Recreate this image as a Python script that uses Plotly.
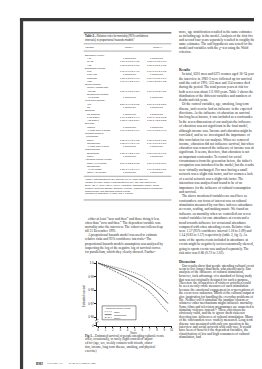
import textwrap
import plotly.graph_objects as go

# ---------------- chart data ----------------
years = [0, 1, 2, 3, 4, 5, 6, 7, 8, 9, 9.5]
surv_often = [1.0, 0.9988, 0.9975, 0.9960, 0.9945, 0.9928, 0.9905, 0.9868, 0.9830, 0.9790, 0.9772]
surv_occasionally = [1.0, 0.9983, 0.9963, 0.9942, 0.9920, 0.9895, 0.9868, 0.9836, 0.9790, 0.9725, 0.9700]
surv_rarely = [1.0, 0.9975, 0.9948, 0.9920, 0.9893, 0.9862, 0.9828, 0.9787, 0.9730, 0.9665, 0.9640]
series_names = ["Often", "Occasionally", "Rarely"]
legend_title = "Attending cultural events:"
x_ticks = [0, 1, 2, 3, 4, 5, 6, 7, 8, 9, 10]
y_floor = 0.9535            # broken axis origin, labelled "0"
y_ticks = [0.96, 0.97, 0.98, 0.99, 1.0]
y_tick_labels = ["0·96", "0·97", "0·98", "0·99", "1·0"]
x_title = "Years"
y_title = "Estimated survival"

# ---------------- page text ----------------
table_title = ["<b>Table 2</b>—Relative risks for mortality (95% confidence",
               "intervals) in proportional hazards models*"]
table_header = ["Variable", "Model I", "Model II"]
table_rows = [
    ("Education (years):", 0, "", ""),
    ("<10", 1, "1 Reference", "1 Reference"),
    ("10-12", 1, "0.80 (0.68 to 0.95)", "0.83 (0.70 to 1.00)"),
    (">12", 1, "0.63 (0.50 to 0.80)", "0.83 (0.65 to 1.05)"),
    ("Disposable income:", 0, "", ""),
    ("Low", 1, "1.16 (0.96 to 1.40)", "0.96 (0.79 to 1.18)"),
    ("Fairly low", 1, "1 Reference", "1 Reference"),
    ("Moderate", 1, "0.75 (0.58 to 0.96)", "0.87 (0.66 to 1.14)"),
    ("High", 1, "0.60 (0.43 to 0.84)", "0.72 (0.51 to 1.02)"),
    ("Social network:", 0, "", ""),
    ("Weekly contact with", 1, "", ""),
    ("  friends", 1, "1.30 (1.08 to 1.56)", "1.10 (0.88 to 1.38)"),
    ("Seldom/few contact/", 1, "", ""),
    ("  no friends", 1, "1 Reference", "1 Reference"),
    ("Long term disease:", 0, "", ""),
    ("Yes", 1, "2.50 (1.99 to 3.13)", "2.10 (1.76 to 2.50)"),
    ("No", 1, "1 Reference", "1 Reference"),
    ("Smoking:", 0, "", ""),
    ("No smoking", 1, "1 Reference", "1 Reference"),
    ("1-15 g/day†", 1, "1.60 (1.32 to 1.94)", "1.75 (1.45 to 2.12)"),
    (">15 g/day†", 1, "1.83 (1.43 to 2.34)", "1.82 (1.42 to 2.33)"),
    ("Exercise:", 0, "", ""),
    ("Inactive", 1, "1 Reference", "1 Reference"),
    ("At least once a month", 1, "0.61 (0.50 to 0.74)", "0.79 (0.65 to 0.96)"),
    ("Reading books or", 0, "", ""),
    ("  periodicals:", 0, "", ""),
    ("Rarely", 1, "1.31 (0.99 to 1.73)", "1.05 (0.80 to 1.38)"),
    ("Occasionally", 1, "1.15 (0.94 to 1.41)", "1.09 (0.89 to 1.34)"),
    ("At least once a week", 1, "1 Reference", "1 Reference"),
    ("Making music:", 0, "", ""),
    ("Sometimes", 1, "0.57 (0.42 to 0.78)", "0.80 (0.59 to 1.10)"),
    ("Rarely", 1, "1 Reference", "1 Reference"),
    ("Attending cultural events:", 0, "", ""),
    ("Rarely (0-5 points)", 1, "2.00 (1.52 to 2.63)", "1.57 (1.18 to 2.09)"),
    ("Occasionally", 1, "", ""),
    ("  (6-10 points)", 1, "1.28 (0.94 to 1.74)", "1.14 (0.83 to 1.57)"),
    ("Often (>10 points)", 1, "1 Reference", "1 Reference"),
]
table_notes = [
    "*Model I was adjusted for sex and age (16-74 years) with one",
    "variable at a time; model II was adjusted for sex, age (age band 16-24,",
    "25-34, 35-44, 45-54, 55-64, 65-74), education, disposable income, social",
    "network, long term disease, smoking, exercise, reading books or periodicals,",
    "making music, and attending cultural events.",
    "†Number of cigarettes × 1 g/day and × 1 g/pipe.",
]
left_text = [
    "either at least “now and then” and those doing it less often than “now and then.” "
    "The dependent variable was mortality after the interview. The cohort was followed "
    "up till 31 December 1991.",
    "A proportional hazards model was used to estimate relative risks and 95% confidence "
    "intervals.⁸ The proportional hazards models assumption was analysed by inspecting "
    "the log of the negative log of survival curves for parallelism, which they clearly showed. Further-",
]
right_top = [
    "more, age stratification resulted in the same estimates as including age in the model. "
    "Analysis of the first five and second four years separately resulted in roughly the same "
    "estimates. The null hypothesis was tested for the model and variables with the χ² test "
    "using the Wald criterion."
]
results_text = [
    "In total, 6301 men and 6375 women aged 16-74 years at the interview in 1982-3 were "
    "followed up for survival until the end of 1991; 333 men and 314 women died during the "
    "period. The total person years at risk for both sexes was about 111 000 years. Table 1 "
    "shows the distribution of the different variables and numbers of deaths and risk years.",
    "Of the control variables, age, smoking, long term disease, and exercise had an influence "
    "in the expected directions. As the influence of education on survival has long been known, "
    "it was included as a confounder. In the seven dimensions of our analysis the influence of "
    "education was not significant in the final model, although income was. Income and "
    "education might be correlated, and so we investigated the importance of this correlation "
    "for our analysis. When we removed income, education did not influence survival, but when "
    "education was removed the influence of income was still significant. It seems, therefore, "
    "that education is not an important confounder. To control for social circumstances from "
    "the generation before, the father's occupation was introduced in the model, but the results "
    "were virtually unchanged. For men having a small network was a slight risk factor, and for "
    "women a lack of a social network was a slight risk factor. The interaction was analysed "
    "and found to be of no importance for the influence of cultural consumption and survival.",
    "The above mentioned variables are used here as confounders; our focus of interest was on "
    "cultural stimulation measured by our three indexes: attendance at events, reading, and "
    "making music. We found an influence on mortality when we controlled our seven control "
    "variables for rare attendance at events and a trend towards influence for occasional "
    "attendance compared with often attending events. Relative risks were 1.57 (95% confidence "
    "interval 1.18 to 2.09) and 1.14 (0.83 to 1.57) respectively (table 2, fig 1). As some of "
    "the sports events included in attendance at events might be negatively socioeconomically "
    "skewed, going to sports events was analysed separately. The risk ratio was 0.86 (0.72 to 1.02).",
]
discussion_text = [
    "Our results show that people attending cultural events seem to live longer than those who "
    "attend rarely. Our analysis of the influence of cultural stimulation, however, took advantage "
    "of a standard of living study that was not originally designed for such a purpose. Therefore "
    "the frequencies of visits or activities could be seen as only crude measures of such "
    "stimulation because the emotional engagement in or perceptions of the event were unknown. "
    "Much of the cultural output may give inspiration for handling the everyday problems of life. "
    "Neither will it stimulate the immune system or whatever other mechanisms might influence "
    "mortality. Some films and television programmes are suspected to stimulate violence instead.¹³ "
    "These objections are obviously valid, and the to ignore them risks not detecting true "
    "influences of cultural stimulation. Many of the confounders were crudely measured. Long term "
    "disease was measured with only one question in the interview and social network with only two. "
    "It would have been of benefit if the dependent variables, the classification of low and high "
    "consumers of cultural stimulation, had"
]
caption_lines = [
    "<b>Fig 1</b>—Estimated survival of people attending cultural events",
    "often, occasionally, or rarely (light controlled/ adjust-",
    "ed for (age, sex, weekly contacts with friends, educa-",
    "tion, income, long term disease, smoking, and physical",
    "exercise)",
]
footer_left = ["<b>BMJ</b>", "VOLUME 313", "21-28 DECEMBER 1996"]
page_number = "1579"

W, H = 262, 369
INK = "#2a2a2a"
SERIF = "Liberation Serif"
SANS = "Liberation Sans"


def px(x):
    return x / W


def py(y):
    return 1 - y / H


annotations = []
shapes = []


def txt(x, y, s, size=3.4, family=SERIF, anchor="left", color=INK, angle=0):
    annotations.append(dict(
        x=px(x), y=py(y), xref="paper", yref="paper", text=s, showarrow=False,
        xanchor=anchor, yanchor="middle", textangle=angle, borderpad=0,
        font=dict(size=size, family=family, color=color)))


def hline(x0, x1, y, width=0.5, color=INK):
    shapes.append(dict(type="line", xref="paper", yref="paper", x0=px(x0), x1=px(x1),
                       y0=py(y), y1=py(y), line=dict(color=color, width=width)))


def block(paras, x, y0, y1, width=57, size=3.4, indent=3):
    lines = []
    for p in paras:
        for i, ln in enumerate(textwrap.wrap(p, width)):
            lines.append((ln, i == 0))
    n = len(lines)
    step = (y1 - y0) / max(n - 1, 1)
    for i, (ln, first) in enumerate(lines):
        txt(x + (indent if first and indent else 0), y0 + i * step, ln, size=size)


# ---------------- page frame ----------------
shapes.append(dict(type="rect", xref="paper", yref="paper", x0=px(12), x1=px(15.2),
                   y0=py(369), y1=py(10), fillcolor="#3a3a3a", line=dict(width=0)))
shapes.append(dict(type="rect", xref="paper", yref="paper", x0=px(12), x1=px(262),
                   y0=py(13.3), y1=py(10), fillcolor="#3a3a3a", line=dict(width=0)))

# ---------------- table ----------------
hline(76, 164, 25, width=0.9)
txt(76, 28.6, table_title[0], size=2.7, family=SANS)
txt(76, 31.9, table_title[1], size=2.7, family=SANS)
hline(76, 164, 36, width=0.4)
txt(76, 39.8, table_header[0], size=2.5, family=SANS)
txt(122, 39.8, table_header[1], size=2.5, family=SANS, anchor="center")
txt(150, 39.8, table_header[2], size=2.5, family=SANS, anchor="center")
hline(76, 164, 43.3, width=0.4)
r0, r1 = 47.5, 165.7
rstep = (r1 - r0) / (len(table_rows) - 1)
for i, (lab, ind, m1, m2) in enumerate(table_rows):
    yy = r0 + i * rstep
    txt(76 + 2.5 * ind, yy, lab, size=2.4, family=SANS)
    if m1:
        txt(122, yy, m1, size=2.4, family=SANS, anchor="center")
    if m2:
        txt(150, yy, m2, size=2.4, family=SANS, anchor="center")
hline(76, 164, 169.2, width=0.4)
for i, ln in enumerate(table_notes):
    txt(76, 172 + i * 3.0, ln, size=2.3, family=SANS)
hline(76, 164, 193, width=0.7, color="#777777")

# ---------------- body text ----------------
block(left_text, 76, 211.5, 245.5, width=57)
block(right_top, 171, 24.5, 44.5, width=57, indent=0)
txt(171, 62, "<b>Results</b>", size=3.6)
block(results_text, 171, 66.5, 246.5, width=55)
txt(171, 255, "<b>Discussion</b>", size=3.6)
block(discussion_text, 171, 259.5, 331, width=55)
for i, ln in enumerate(caption_lines):
    txt(76, 330 + i * 3.7, ln, size=3.2)

# footer
txt(27, 357.5, footer_left[0], size=3.3)
txt(38, 357.5, footer_left[1], size=2.6)
txt(60, 357.5, footer_left[2], size=2.6)
txt(250, 357, page_number, size=3.2, anchor="center")

# ---------------- chart ----------------
fig = go.Figure()
styles = [("1px,1px", 0.7, "#555555"), ("solid", 0.7, "#2a2a2a"), ("2px,1px", 0.7, "#555555")]
for name, vals, (dash, lw, col) in zip(series_names,
                                       [surv_often, surv_occasionally, surv_rarely], styles):
    fig.add_trace(go.Scatter(x=years, y=vals, mode="lines", name=name, showlegend=False,
                             line=dict(color=col, width=lw, dash=dash)))

# legend (drawn as a boxed key, as in the original)
shapes.append(dict(type="rect", xref="paper", yref="paper", x0=px(94.5), x1=px(128.5),
                   y0=py(313.5), y1=py(299.5), line=dict(color=INK, width=0.5),
                   fillcolor="white", layer="above"))
txt(96, 302, legend_title, size=2.3, family=SANS)
for i, (name, (dash, lw, col)) in enumerate(zip(series_names, styles)):
    yy = 305.3 + i * 3.0
    shapes.append(dict(type="line", xref="paper", yref="paper", x0=px(97), x1=px(104),
                       y0=py(yy), y1=py(yy), line=dict(color=col, width=0.6, dash=dash),
                       layer="above"))
    txt(105, yy, name, size=2.3, family=SANS)

# axis break marks
shapes.append(dict(type="rect", xref="paper", yref="paper", x0=px(88), x1=px(90.2),
                   y0=py(316.2), y1=py(313.8), fillcolor="white", line=dict(width=0),
                   layer="above"))
for yb in (313.8, 316.2):
    shapes.append(dict(type="line", xref="paper", yref="paper", x0=px(87.3), x1=px(90.9),
                       y0=py(yb + 0.9), y1=py(yb - 0.9), line=dict(color=INK, width=0.5),
                       layer="above"))

# axis titles
txt(126, 326.3, x_title, size=2.7, family=SANS, anchor="center")
txt(77, 290, y_title, size=2.7, family=SANS, anchor="center", angle=-90)

axis_font = dict(size=2.8, family=SANS, color=INK)
fig.update_layout(
    width=W, height=H, margin=dict(l=0, r=0, t=0, b=0),
    paper_bgcolor="white", plot_bgcolor="white", showlegend=False,
    annotations=annotations, shapes=shapes,
    xaxis=dict(domain=[px(89), px(165)], range=[-0.2, 10.1], tickvals=x_ticks,
               ticks="outside", ticklen=1.5, tickwidth=0.5, tickcolor=INK,
               showline=True, linecolor=INK, linewidth=0.6, showgrid=False, zeroline=False,
               tickfont=axis_font),
    yaxis=dict(domain=[py(319.5), py(254.5)], range=[y_floor, 1.0015],
               tickvals=[y_floor] + y_ticks, ticktext=["0"] + y_tick_labels,
               ticks="outside", ticklen=1.5, tickwidth=0.5, tickcolor=INK,
               showline=True, linecolor=INK, linewidth=0.6, showgrid=False, zeroline=False,
               tickfont=axis_font),
)
fig.write_html("out.html")
